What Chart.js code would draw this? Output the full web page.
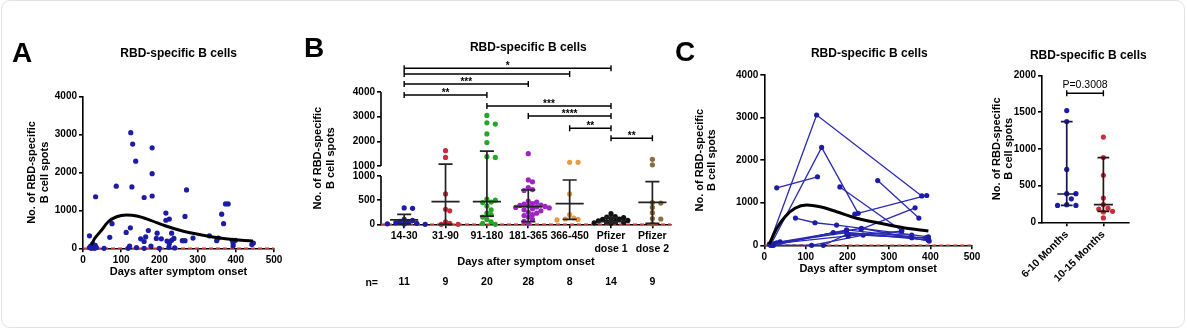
<!DOCTYPE html>
<html>
<head>
<meta charset="utf-8">
<script src="https://cdn.jsdelivr.net/npm/chart.js@4.4.0/dist/chart.umd.min.js"></script>
<style>
  body { margin: 0; background: #fff; }
  #page { position: relative; width: 1187px; height: 330px; overflow: hidden; background: #fff;
          font-family: "Liberation Sans", Arial, sans-serif; }
  #frame { position: absolute; left: 1px; top: 0px; width: 1184px; height: 328px; box-sizing: border-box;
           border: 1.5px solid #e2e2e2; border-radius: 9px; }
  canvas.layer { position: absolute; left: 0; top: 0; }
  .t { position: absolute; font-weight: bold; color: #000; white-space: nowrap; transform: translateX(-50%); }
</style>
</head>
<body>
<div id="page"><div id="frame"></div></div>
<script>
// ---- panel A : all samples, days vs spots ----
const aDays  = [125,130,138,181,181,87,128,33,160,181,271,373,380,363,368,76,217,226,217,267,17,70,113,124,151,164,160,171,194,192,205,232,232,226,220,238,260,267,288,331,350,354,391,393,399,393,442,446,17,20,22,25,27,30,32,35,55,118,122,140,160,178,200,225,240];
const aSpots = [3050,2750,2300,2650,1970,1640,1620,1360,1340,1380,1540,1170,1170,900,650,650,930,770,740,840,330,290,420,540,250,300,180,470,400,260,250,400,210,120,190,260,200,200,270,330,200,270,210,140,210,70,100,140,20,60,0,120,40,0,80,20,0,0,60,20,0,60,0,30,10];
const aFitDays  = [22,30,49,66,88,114,141,175,215,258,311,363,415,445];
const aFitSpots = [80,250,482,700,833,877,851,745,596,464,350,263,210,190];

// ---- panel B : groups by days after onset / vaccine ----
const bGroups = ['14-30','31-90','91-180','181-365','366-450','Pfizer\ndose 1','Pfizer\ndose 2'];
const bColors = ['#1c1ca8','#c4303c','#26a626','#a024c4','#e89c40','#111111','#8c6c40'];
const bSpots = [
  [340,330,100,80,60,40,30,20,10,5,0],
  [1620,1350,630,310,280,50,20,0,0],
  [3050,2750,2700,2300,1950,1380,1350,520,500,460,450,380,300,230,200,150,100,50,20,0],
  [1500,920,880,760,720,700,480,460,430,420,400,390,380,370,360,350,340,320,300,280,250,230,200,180,150,100,60,20],
  [1150,1150,630,200,130,110,100,90],
  [220,160,150,140,120,110,100,80,70,60,50,40,30,20],
  [1270,1050,450,440,350,240,120,110,10]
];
const bMedian = [90,470,470,365,430,55,455];
const bLow    = [10,0,170,54,100,20,20];
const bHigh   = [207,1080,1600,710,917,145,882];
const bLowerTicks = [0,500,1000];
const bUpperTicks = [1000,2000,3000,4000];
// [from group, to group, label]
const bComparisons = [[0,5,'*'],[0,4,''],[0,3,'***'],[0,2,'**'],[2,5,'***'],[3,5,'****'],[4,5,'**'],[5,6,'**']];

// ---- panel C : follow-up per subject, [day, spots] ----
const cSubjects = [
  [[12,30],[126,3060],[379,1160]],
  [[16,20],[138,2300],[226,750]],
  [[30,1350],[128,1610]],
  [[182,1370],[331,340]],
  [[273,1520],[372,640]],
  [[218,730],[391,1170]],
  [[233,380],[363,880]],
  [[75,640],[122,530],[174,475],[395,200]],
  [[22,0],[166,300],[355,240]],
  [[18,0],[198,360],[395,150]],
  [[38,80],[234,400],[397,100]],
  [[25,40],[202,220],[330,330]],
  [[15,0],[114,0],[238,240],[390,180]],
  [[20,0],[142,0],[200,260],[355,180]],
  [[30,60],[198,300],[395,120]]
];
const cFitDays  = [12,30,50,74,102,134,174,222,279,335,395];
const cFitSpots = [30,399,672,869,946,907,789,634,517,413,336];

// ---- panel D : 6-10 vs 10-15 months ----
const dGroups = ['6-10 Months','10-15 Months'];
const dColors = ['#1c1ca8','#c4303c'];
const dBarColors = ['#16164e','#2a1414'];
const dSpots = [
  [1520,1370,720,390,390,320,240,230,230],
  [1160,880,640,330,240,190,180,150,140,60]
];
const dMedian = [385,240];
const dLow    = [230,150];
const dHigh   = [1370,880];
const dPValue = 'P=0.3008';

// ------------------------------------------------------------------
const W = 1187, H = 330;
const FONT = '"Liberation Sans", Arial, sans-serif';
const page = document.getElementById('page');
const BLUE = '#1c1ca8', ZERO_RED = '#c0392b';

const areaA = {l: 83, t: 96.7, r: 274, b: 248.3};
const areaB = {l: 381, t: 92, r: 671, b: 224.3};
const areaC = {l: 764.3, t: 75, r: 972, b: 245.3};
const areaD = {l: 1042, t: 75.3, r: 1128.3, b: 222.3};

// broken y axis of panel B: lower part 0-1000, upper part 1000-4000 compressed
const GAP = 207, UPPER_K = 0.511;
function brk(v, upper) {
  return (v > 1000 || upper) ? 1000 + GAP + (v - 1000) * UPPER_K : v;
}

function text(str, cx, cy, size, extra) {
  const d = document.createElement('div');
  d.className = 't';
  d.textContent = str;
  d.style.left = cx + 'px';
  d.style.top = (cy - size * 0.49) + 'px';
  d.style.fontSize = size + 'px';
  d.style.lineHeight = size + 'px';
  if (extra) Object.assign(d.style, extra);
  page.appendChild(d);
}

function layer() {
  const c = document.createElement('canvas');
  c.width = W; c.height = H; c.className = 'layer';
  page.appendChild(c);
  return c.getContext('2d');
}

function fit(size) {
  return s => {
    if (s.isHorizontal()) { s.height = size; s.paddingLeft = 0; s.paddingRight = 0; }
    else { s.width = size; s.paddingTop = 0; s.paddingBottom = 0; }
  };
}

const tickFont = size => ({family: FONT, size: size, weight: 'bold'});
const plain = v => String(v);

function axis(size, opts) {
  return Object.assign({
    type: 'linear',
    afterFit: fit(size),
    border: {display: true, color: '#000', width: 1.6},
    grid: {display: true, drawOnChartArea: false, drawTicks: true, tickLength: 4, color: '#000', lineWidth: 1.6}
  }, opts);
}

function ticks(size, extra) {
  return Object.assign({color: '#000', font: tickFont(size), padding: 2, autoSkip: false, maxRotation: 0, callback: plain}, extra);
}

function yTitle(lines) {
  return {display: true, text: lines, color: '#000', padding: {top: 0, bottom: 0},
          font: {family: FONT, size: 11, weight: 'bold', lineHeight: 1.12}};
}
function xTitle(str) {
  return {display: true, text: str, color: '#000', padding: {top: 0, bottom: 0},
          font: {family: FONT, size: 11, weight: 'bold', lineHeight: 1.1}};
}

function baseOptions(area, yWidth, xHeight) {
  return {
    responsive: false, animation: false, devicePixelRatio: 1, events: [],
    layout: {padding: {left: area.l - yWidth, top: area.t, right: W - area.r, bottom: H - area.b - xHeight}},
    plugins: {legend: {display: false}, tooltip: {enabled: false}}
  };
}

function pts(xs, ys) { return xs.map((x, i) => ({x: x, y: ys[i]})); }

function zeroLine(x0, x1) {
  return {data: [{x: x0, y: 0}, {x: x1, y: 0}], showLine: true, borderColor: ZERO_RED, borderWidth: 1.4,
          borderDash: [4, 3], pointRadius: 0, clip: false, order: 5};
}

// spread points of one group sideways so they do not overlap (pixel offsets)
function swarm(values, toPx, step, diam) {
  const order = values.map((v, i) => i).sort((a, b) => values[b] - values[a]);
  const placed = [];
  const off = new Array(values.length).fill(0);
  order.forEach(i => {
    const py = toPx(values[i]);
    for (let k = 0; k < 60; k++) {
      const o = k === 0 ? 0 : (k % 2 ? 1 : -1) * Math.ceil(k / 2) * step;
      if (placed.every(p => Math.hypot(p.x - o, p.y - py) >= diam)) {
        placed.push({x: o, y: py}); off[i] = o; break;
      }
    }
  });
  return off;
}

// error bar (median with range) as one broken line
function errorBar(i, med, lo, hi, half, cap, color, mapY) {
  const m = mapY || (v => v);
  return {
    data: [
      {x: i - half, y: m(med)}, {x: i + half, y: m(med)}, {x: i, y: null},
      {x: i, y: m(lo)}, {x: i, y: m(hi)}, {x: i, y: null},
      {x: i - cap, y: m(hi)}, {x: i + cap, y: m(hi)}, {x: i, y: null},
      {x: i - cap, y: m(lo)}, {x: i + cap, y: m(lo)}
    ],
    showLine: true, spanGaps: false, borderColor: color, borderWidth: 1.7, pointRadius: 0, clip: false, order: 1
  };
}

const brackets = {
  id: 'brackets',
  afterDatasetsDraw(chart, args, o) {
    const ctx = chart.ctx, xs = chart.scales.x;
    const top = chart.scales.y.getPixelForValue(o.refValue);
    ctx.save();
    ctx.strokeStyle = '#000'; ctx.fillStyle = '#000'; ctx.lineWidth = 1.4;
    ctx.font = o.font; ctx.textAlign = 'center'; ctx.textBaseline = 'alphabetic';
    o.items.forEach((it, k) => {
      const y = top + o.levels[k];
      const x1 = xs.getPixelForValue(it[0]), x2 = xs.getPixelForValue(it[1]);
      ctx.beginPath();
      ctx.moveTo(x1, y); ctx.lineTo(x2, y);
      ctx.moveTo(x1, y - 3); ctx.lineTo(x1, y + 3);
      ctx.moveTo(x2, y - 3); ctx.lineTo(x2, y + 3);
      ctx.stroke();
      if (it[2]) ctx.fillText(it[2], (x1 + x2) / 2, y + o.textDy);
    });
    ctx.restore();
  }
};

const brokenAxis = {
  id: 'brokenAxis',
  beforeDatasetsDraw(chart) {
    const ctx = chart.ctx, ys = chart.scales.y, x = chart.chartArea.left;
    ctx.save();
    ctx.strokeStyle = '#000'; ctx.lineWidth = 1.6;
    ctx.beginPath();
    ctx.moveTo(x, ys.getPixelForValue(0)); ctx.lineTo(x, ys.getPixelForValue(brk(1000)));
    ctx.moveTo(x, ys.getPixelForValue(brk(1000, true))); ctx.lineTo(x, ys.getPixelForValue(brk(4000)));
    ctx.stroke();
    ctx.restore();
  }
};

const spotsTitle = ['No. of RBD-specific', 'B cell spots'];

// ---------------- panel A ----------------
new Chart(layer(), {
  type: 'scatter',
  data: {datasets: [
    {data: pts(aFitDays, aFitSpots), showLine: true, borderColor: '#000', borderWidth: 3, pointRadius: 0,
     cubicInterpolationMode: 'monotone', order: 0},
    {data: pts(aDays, aSpots), backgroundColor: BLUE, borderWidth: 0, pointRadius: 2.6, clip: false, order: 2},
    zeroLine(0, 500)
  ]},
  options: Object.assign(baseOptions(areaA, 57, 30), {
    scales: {
      x: axis(30, {min: 0, max: 500, ticks: ticks(10, {stepSize: 100}), title: xTitle('Days after symptom onset')}),
      y: axis(57, {min: 0, max: 4000, ticks: ticks(10, {stepSize: 1000}), title: yTitle(spotsTitle)})
    }
  })
});

// ---------------- panel B ----------------
const bxMin = -0.56, bxMax = 6.45;
const bPxY = (areaB.b - areaB.t) / brk(4000);
const bPxX = (areaB.r - areaB.l) / (bxMax - bxMin);
const bDatasets = [];
bSpots.forEach((vals, i) => {
  const off = swarm(vals, v => brk(v) * bPxY, 4.2, 4.4);
  bDatasets.push({data: vals.map((v, k) => ({x: i + off[k] / bPxX, y: brk(v)})),
                  backgroundColor: bColors[i], borderWidth: 0, pointRadius: 2.6, clip: false, order: 2});
  bDatasets.push(errorBar(i, bMedian[i], bLow[i], bHigh[i], 0.34, 0.17, '#222', brk));
});
bDatasets.push(zeroLine(bxMin, bxMax));
const groupTicks = s => { s.ticks = bGroups.map((g, i) => ({value: i})); };
new Chart(layer(), {
  type: 'scatter',
  data: {datasets: bDatasets},
  options: Object.assign(baseOptions(areaB, 69, 43.4 + 24), {
    scales: {
      x: axis(43.4, {min: bxMin, max: bxMax, afterBuildTicks: groupTicks,
        ticks: ticks(10.5, {callback: (v, i) => bGroups[i].split('\n')}),
        title: xTitle('Days after symptom onset')}),
      xN: axis(24, {position: 'bottom', min: bxMin, max: bxMax, afterBuildTicks: groupTicks,
        border: {display: false}, grid: {display: false, drawTicks: false},
        ticks: ticks(10.5, {padding: 8, callback: (v, i) => String(bSpots[i].length)})}),
      y: axis(69, {min: 0, max: brk(4000), border: {display: false},
        afterBuildTicks: s => {
          s.ticks = bLowerTicks.map(v => ({value: brk(v), orig: v}))
            .concat(bUpperTicks.map(v => ({value: brk(v, true), orig: v})));
        },
        ticks: ticks(10, {callback: (v, i, t) => String(t[i].orig)}),
        title: yTitle(spotsTitle)})
    },
    plugins: {legend: {display: false}, tooltip: {enabled: false},
      brackets: {refValue: brk(4000), items: bComparisons, levels: [-23.7, -18, -8, 3, 14, 24, 36.3, 46.3],
                 font: 'bold 10px ' + FONT, textDy: 1}}
  }),
  plugins: [brackets, brokenAxis]
});
text('n=', 371.7, 281.7, 10.5);

// ---------------- panel C ----------------
const cDatasets = [{data: pts(cFitDays, cFitSpots), showLine: true, borderColor: '#000', borderWidth: 3, pointRadius: 0,
                    cubicInterpolationMode: 'monotone', order: 0}];
cSubjects.forEach(s => {
  cDatasets.push({data: s.map(p => ({x: p[0], y: p[1]})), showLine: true, borderColor: '#2a2ab0', borderWidth: 1.3,
                  backgroundColor: BLUE, pointRadius: 2.6, pointBorderWidth: 0, clip: false, order: 2});
});
cDatasets.push(zeroLine(0, 500));
new Chart(layer(), {
  type: 'scatter',
  data: {datasets: cDatasets},
  options: Object.assign(baseOptions(areaC, 70.6, 30), {
    scales: {
      x: axis(30, {min: 0, max: 500, ticks: ticks(10, {stepSize: 100}), title: xTitle('Days after symptom onset')}),
      y: axis(70.6, {min: 0, max: 4000, ticks: ticks(10, {stepSize: 1000}), title: yTitle(spotsTitle)})
    }
  })
});

// ---------------- panel D ----------------
const dxMin = 0.325, dxMax = 2.68;
const dPxY = (areaD.b - areaD.t) / 2000;
const dPxX = (areaD.r - areaD.l) / (dxMax - dxMin);
const dDatasets = [];
dSpots.forEach((vals, i) => {
  const off = swarm(vals, v => v * dPxY, 4.6, 5.2);
  dDatasets.push({data: vals.map((v, k) => ({x: i + 1 + off[k] / dPxX, y: v})),
                  backgroundColor: dColors[i], borderWidth: 0, pointRadius: 2.6, clip: false, order: 2});
  dDatasets.push(errorBar(i + 1, dMedian[i], dLow[i], dHigh[i], 0.26, 0.16, dBarColors[i]));
});
new Chart(layer(), {
  type: 'scatter',
  data: {datasets: dDatasets},
  options: Object.assign(baseOptions(areaD, 51.3, 60), {
    scales: {
      x: axis(60, {min: dxMin, max: dxMax,
        afterBuildTicks: s => { s.ticks = dGroups.map((g, i) => ({value: i + 1})); },
        ticks: ticks(10.5, {minRotation: 45, maxRotation: 45, callback: (v, i) => dGroups[i]})}),
      y: axis(51.3, {min: 0, max: 2000, ticks: ticks(10, {stepSize: 500}), title: yTitle(spotsTitle)})
    },
    plugins: {legend: {display: false}, tooltip: {enabled: false},
      brackets: {refValue: 2000, items: [[1, 2, dPValue]], levels: [18], font: '10.5px ' + FONT, textDy: -5}}
  }),
  plugins: [brackets]
});

// ---------------- panel letters and titles ----------------
text('A', 22, 53, 28);
text('B', 314, 48, 28);
text('C', 685, 52, 28);
text('RBD-specific B cells', 178.7, 52.7, 12);
text('RBD-specific B cells', 528.3, 46.7, 12);
text('RBD-specific B cells', 869.3, 53.3, 12);
text('RBD-specific B cells', 1088.3, 55, 12);
</script>
</body>
</html>
